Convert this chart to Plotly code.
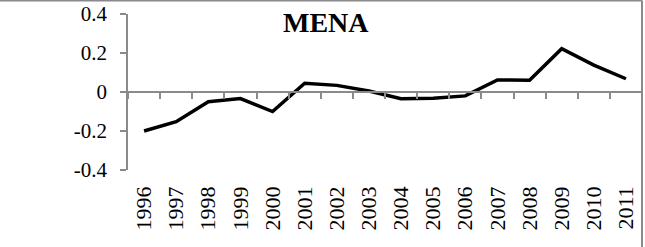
import plotly.graph_objects as go

years = list(range(1996, 2012))
year_labels = [str(y) for y in years]
mena = [-0.200, -0.152, -0.050, -0.034, -0.100, 0.045, 0.034, 0.005,
        -0.034, -0.032, -0.020, 0.062, 0.060, 0.222, 0.138, 0.068]
y_ticks = [-0.4, -0.2, 0, 0.2, 0.4]
y_tick_labels = ["-0.4", "-0.2", "0", "0.2", "0.4"]
title_text = "MENA"

GRAY = "#8a8a8a"
FONT = "Liberation Serif"

fig = go.Figure()
fig.add_trace(go.Scatter(
    x=years, y=mena, xaxis="x", yaxis="y", mode="lines",
    line=dict(color="black", width=3.5), showlegend=False,
))
# invisible helper so the zero-crossing category axis (x2) is drawn
fig.add_trace(go.Scatter(
    x=years, y=mena, xaxis="x2", yaxis="y", mode="lines",
    line=dict(color="rgba(0,0,0,0)", width=0), showlegend=False, hoverinfo="skip",
))

xr = [years[0] - 0.5, years[-1] + 0.5]

fig.update_layout(
    width=645, height=247,
    margin=dict(l=128, r=3, t=14, b=77),
    paper_bgcolor="white", plot_bgcolor="white",
    font=dict(family=FONT, color="black"),
    xaxis=dict(
        range=xr, tickmode="array", tickvals=years, ticktext=year_labels,
        tickangle=-90, showline=False, showgrid=False, zeroline=False,
        ticks="", ticklabelstandoff=11, tickfont=dict(size=22, family=FONT),
        anchor="y",
    ),
    xaxis2=dict(
        range=xr, overlaying="x", anchor="free", position=0.5,
        showline=True, linecolor=GRAY, linewidth=1.5,
        ticks="outside", ticklen=6, tickcolor=GRAY, tickwidth=1.5,
        tickmode="linear", tick0=years[0] - 0.5, dtick=1,
        showticklabels=False, showgrid=False, zeroline=False,
    ),
    yaxis=dict(
        range=[-0.4, 0.4], tickmode="array", tickvals=y_ticks, ticktext=y_tick_labels,
        showline=True, linecolor=GRAY, linewidth=1.5,
        ticks="outside", ticklen=6, tickcolor=GRAY, tickwidth=1.5,
        showgrid=False, zeroline=False, ticklabelstandoff=9,
        tickfont=dict(size=21, family=FONT),
    ),
    annotations=[dict(
        text="<b>%s</b>" % title_text, xref="paper", yref="paper",
        x=0.385, y=0.945, xanchor="center", yanchor="middle", showarrow=False,
        font=dict(size=28, family=FONT, color="black"),
    )],
    shapes=[
        dict(type="line", xref="paper", yref="paper", x0=-0.3, x1=1.0,
             y0=1.087, y1=1.087, line=dict(color=GRAY, width=2)),
        dict(type="line", xref="paper", yref="paper", x0=1.0, x1=1.0,
             y0=-0.6, y1=1.087, line=dict(color=GRAY, width=2)),
    ],
)

fig.write_html("out.html")
